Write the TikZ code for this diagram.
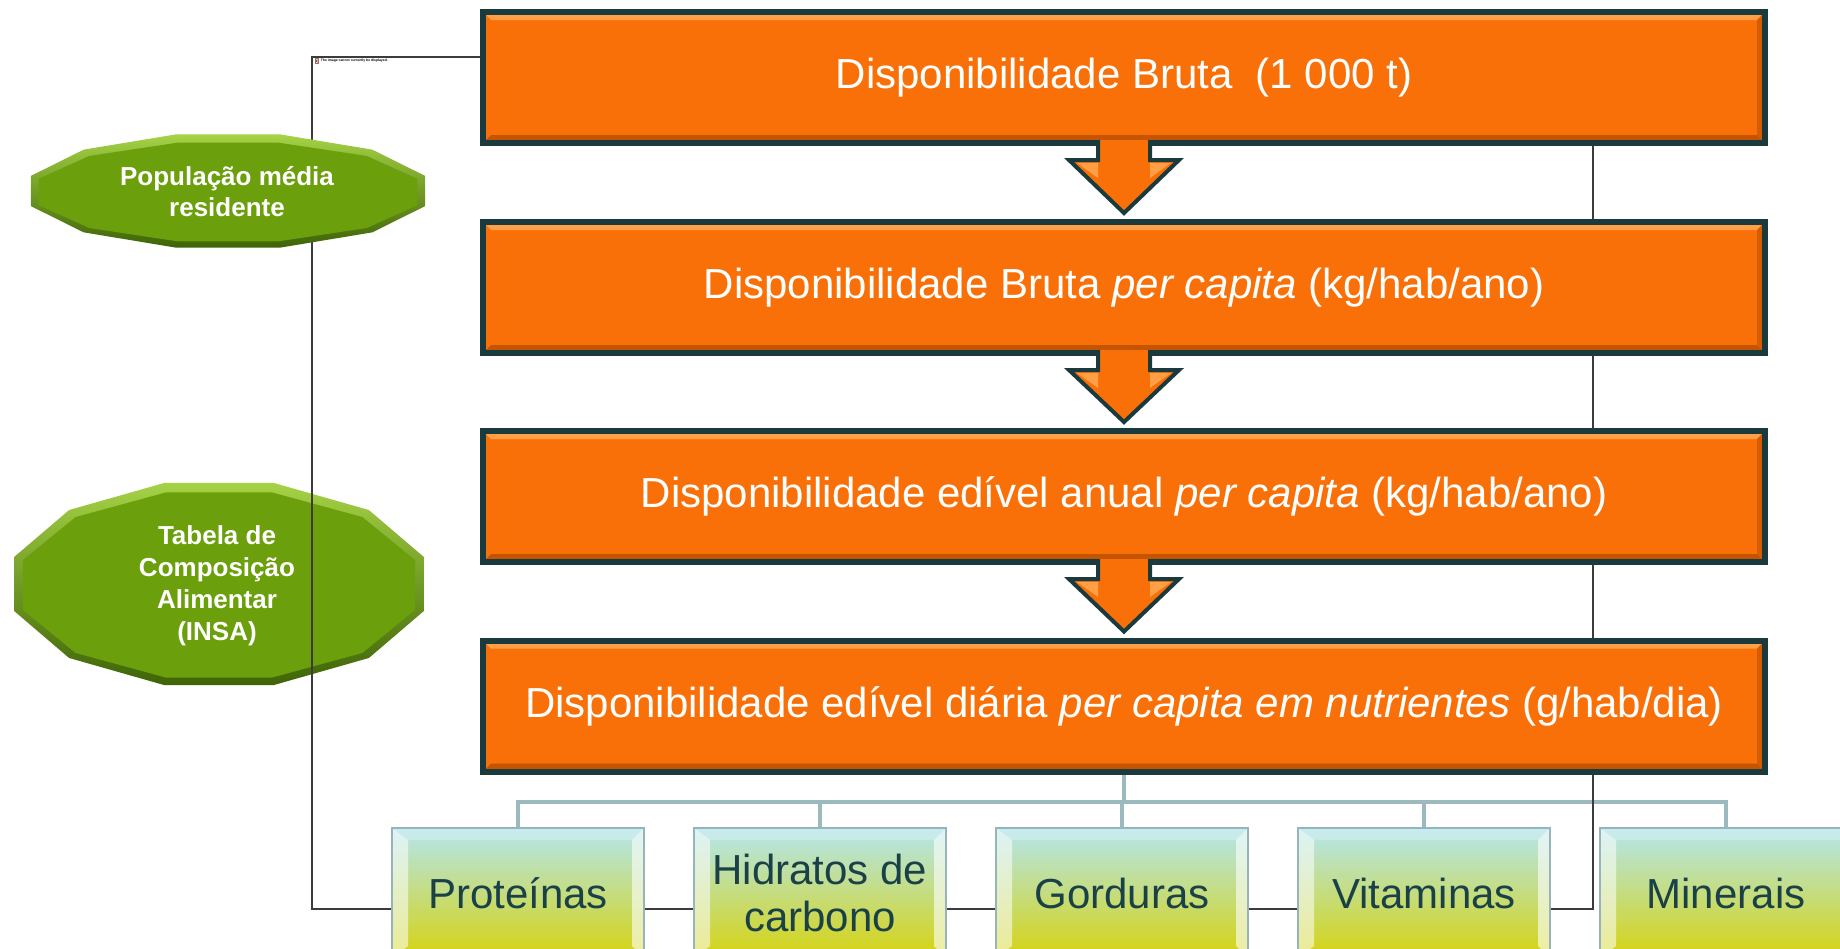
\documentclass[tikz,border=0pt]{standalone}
\usepackage{fontspec}
\setmainfont{Liberation Sans}
\usetikzlibrary{calc}
\pgfdeclarelayer{back}
\pgfdeclarelayer{mid}
\pgfsetlayers{back,mid,main}
\definecolor{orangefill}{RGB}{250,112,8}
\definecolor{orangelight}{RGB}{255,160,70}
\definecolor{orangedark}{RGB}{196,84,0}
\definecolor{boxedge}{RGB}{27,58,62}
\definecolor{greenmain}{RGB}{107,159,11}
\definecolor{greenlight}{RGB}{165,210,70}
\definecolor{greendark}{RGB}{62,100,6}
\definecolor{treecol}{RGB}{156,185,190}
\definecolor{btext}{RGB}{26,64,72}
\definecolor{cyantop}{RGB}{180,230,238}
\definecolor{greenmid}{RGB}{198,222,140}
\definecolor{yellowbot}{RGB}{214,211,15}
\definecolor{bedge}{RGB}{150,180,185}
\definecolor{framecol}{RGB}{60,60,60}
\begin{document}
\begin{tikzpicture}[x=0.5pt,y=-0.5pt,
  obox/.style={draw=boxedge, line width=3pt, fill=orangefill, inner sep=0pt,
    minimum width=641pt, minimum height=65.5pt, text=white,
    font=\fontsize{21}{25}\selectfont,
    path picture={
      \fill[orangelight] (path picture bounding box.north west) -- (path picture bounding box.north east)
        -- ++(-4pt,-4pt) -- ($(path picture bounding box.north west)+(4pt,-4pt)$) -- cycle;
      \fill[orangedark] (path picture bounding box.south west) -- (path picture bounding box.south east)
        -- ++(-4pt,4pt) -- ($(path picture bounding box.south west)+(4pt,4pt)$) -- cycle;
      \fill[orangedark!70!orangefill] (path picture bounding box.north east) -- (path picture bounding box.south east)
        -- ++(-4pt,4pt) -- ($(path picture bounding box.north east)+(-4pt,-4pt)$) -- cycle;
    }},
  bbox/.style={draw=bedge, line width=0.8pt, inner sep=0pt,
    minimum width=126pt, minimum height=65pt,
    top color=cyantop, middle color=greenmid, bottom color=yellowbot,
    text=btext, align=center, font=\fontsize{21}{23.5}\selectfont,
    path picture={
      \fill[white,opacity=0.55] (path picture bounding box.north west) -- ++(8pt,-6pt)
        -- ($(path picture bounding box.south west)+(8pt,6pt)$) -- (path picture bounding box.south west) -- cycle;
      \fill[white,opacity=0.6] (path picture bounding box.north east) -- ++(-6pt,-6pt)
        -- ($(path picture bounding box.south east)+(-6pt,6pt)$) -- (path picture bounding box.south east) -- cycle;
      \fill[white,opacity=0.25] (path picture bounding box.north west) -- (path picture bounding box.north east)
        -- ++(-6pt,-6pt) -- ($(path picture bounding box.north west)+(8pt,-6pt)$) -- cycle;
    }},
  octtext/.style={text=white, align=center, inner sep=0pt,
    font=\bfseries\fontsize{13}{15.5}\selectfont},
  blockarrow/.style={fill=orangefill, draw=boxedge, line width=2pt, line join=miter},
  treeline/.style={draw=treecol, line width=2pt},
  framel/.style={draw=framecol, line width=0.7pt}
]
\useasboundingbox (0,0) rectangle (1840,948);
\begin{pgfonlayer}{back}
\fill[white] (0,0) rectangle (1840,948);
\end{pgfonlayer}

% orange boxes
\node[obox] (b1) at (1124,77.5) {Disponibilidade Bruta\ \ (1 000 t)};
\node[obox] (b2) at (1124,287.5) {Disponibilidade Bruta \textit{per capita} (kg/hab/ano)};
\node[obox] (b3) at (1124,496.5) {Disponibilidade edível anual \textit{per capita} (kg/hab/ano)};
\node[obox] (b4) at (1124,706) {Disponibilidade edível diária \textit{per capita em nutrientes} (g/hab/dia)};

% block arrows
\foreach \a/\b in {b1/b2,b2/b3,b3/b4}{
  \filldraw[blockarrow] ($(\a.south)+(-26,-6)$) -- ($(\a.south)+(-26,14)$) -- ($(\a.south)+(-55,14)$)
    -- ($(\b.north)+(0,-6)$) -- ($(\a.south)+(55,14)$) -- ($(\a.south)+(26,14)$) -- ($(\a.south)+(26,-6)$);
  \fill[orangelight] ($(\a.south)+(-47,17)$) -- ($(\a.south)+(-26,17)$) -- ($(\a.south)+(-26,32)$) -- cycle;
  \fill[orangelight] ($(\a.south)+(47,17)$) -- ($(\a.south)+(26,17)$) -- ($(\a.south)+(26,32)$) -- cycle;
}

% bottom boxes
\node[bbox] (p1) at (518,893) {Proteínas};
\node[bbox] (p2) at (820,893) {Hidratos de\\carbono};
\node[bbox] (p3) at (1122,893) {Gorduras};
\node[bbox] (p4) at (1424,893) {Vitaminas};
\node[bbox] (p5) at (1726,893) {Minerais};

% tree connectors
\begin{pgfonlayer}{back}
\coordinate (bar) at (1124,802);
\draw[treeline] (b4.south) -- (bar);
\foreach \n in {p1,p2,p3,p4,p5}{
  \draw[treeline] (bar) -| (\n.north);
}
% lower octagon (under the frame)
\shade[top color=greenlight, bottom color=greendark]
  plot[samples at={15,45,...,345}] ({219+212*cos(\x)},{584+104.6*sin(\x)}) -- cycle;
\fill[greenmain]
  plot[samples at={15,45,...,345}] ({219+203*cos(\x)},{585+96*sin(\x)}) -- cycle;
\end{pgfonlayer}

% broken image frame
\begin{pgfonlayer}{mid}
\draw[framel] (312,57) rectangle (1593,909);
\draw[gray, line width=0.15pt, fill=white] (315,58.5) rectangle (318.5,63.5);
\draw[red, line width=0.2pt] (315.8,59.5) -- (317.7,62.5) (317.7,59.5) -- (315.8,62.5);
\node[anchor=west, inner sep=0pt, font=\bfseries\fontsize{1.7}{2}\selectfont] (msg) at (320.5,60.5)
  {The image cannot currently be displayed.};
\end{pgfonlayer}

% upper octagon (over the frame)
\shade[top color=greenlight, bottom color=greendark]
  plot[samples at={15,45,...,345}] ({228+204*cos(\x)},{191+58.5*sin(\x)}) -- cycle;
\fill[greenmain]
  plot[samples at={15,45,...,345}] ({228+196*cos(\x)},{192+51*sin(\x)}) -- cycle;

\node[octtext] (pop) at (227,192) {População média\\residente};
\node[octtext, font=\bfseries\fontsize{13}{16}\selectfont] (tca) at (217,585.5)
  {Tabela de\\Composição\\Alimentar\\(INSA)};
\end{tikzpicture}
\end{document}
